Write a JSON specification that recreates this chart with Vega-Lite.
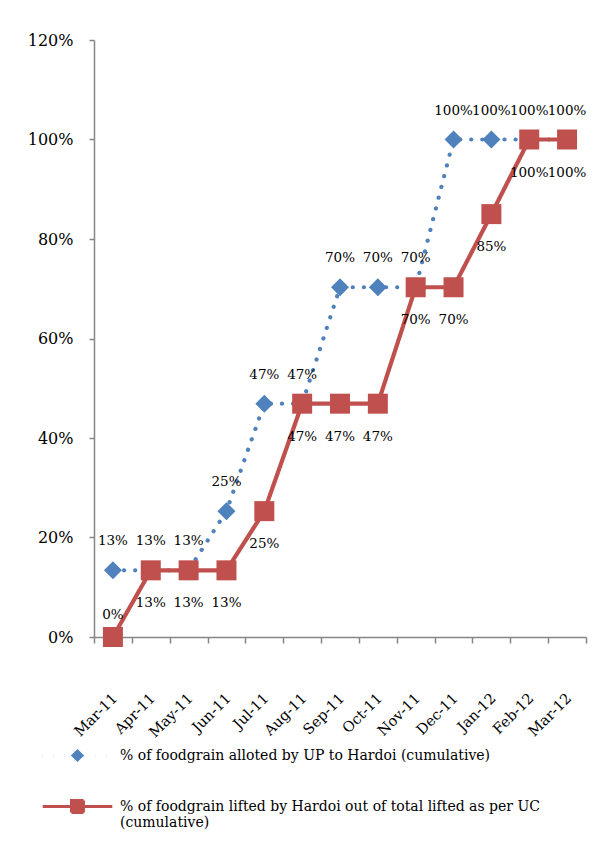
{
  "$schema": "https://vega.github.io/schema/vega-lite/v6.json",
  "width": 492,
  "height": 597,
  "autosize": {"type": "none"},
  "padding": {"left": 94, "top": 40, "right": 9, "bottom": 211},
  "background": "white",
  "config": {
    "view": {"stroke": null},
    "font": "DejaVu Serif",
    "axis": {"domainColor": "#868686", "tickColor": "#868686", "domainWidth": 1.5, "tickWidth": 1.5, "labelColor": "black", "labelFont": "DejaVu Serif", "grid": false, "title": null}
  },
  "data": {
    "values": [
      {"month": "Mar-11", "series": "% of foodgrain alloted by UP to Hardoi (cumulative)", "value": 0.134},
      {"month": "Apr-11", "series": "% of foodgrain alloted by UP to Hardoi (cumulative)", "value": 0.134},
      {"month": "May-11", "series": "% of foodgrain alloted by UP to Hardoi (cumulative)", "value": 0.134},
      {"month": "Jun-11", "series": "% of foodgrain alloted by UP to Hardoi (cumulative)", "value": 0.253},
      {"month": "Jul-11", "series": "% of foodgrain alloted by UP to Hardoi (cumulative)", "value": 0.469},
      {"month": "Aug-11", "series": "% of foodgrain alloted by UP to Hardoi (cumulative)", "value": 0.469},
      {"month": "Sep-11", "series": "% of foodgrain alloted by UP to Hardoi (cumulative)", "value": 0.703},
      {"month": "Oct-11", "series": "% of foodgrain alloted by UP to Hardoi (cumulative)", "value": 0.703},
      {"month": "Nov-11", "series": "% of foodgrain alloted by UP to Hardoi (cumulative)", "value": 0.703},
      {"month": "Dec-11", "series": "% of foodgrain alloted by UP to Hardoi (cumulative)", "value": 1.0},
      {"month": "Jan-12", "series": "% of foodgrain alloted by UP to Hardoi (cumulative)", "value": 1.0},
      {"month": "Feb-12", "series": "% of foodgrain alloted by UP to Hardoi (cumulative)", "value": 1.0},
      {"month": "Mar-12", "series": "% of foodgrain alloted by UP to Hardoi (cumulative)", "value": 1.0},
      {"month": "Mar-11", "series": "% of foodgrain lifted by Hardoi out of total lifted as per UC (cumulative)", "value": 0.0},
      {"month": "Apr-11", "series": "% of foodgrain lifted by Hardoi out of total lifted as per UC (cumulative)", "value": 0.134},
      {"month": "May-11", "series": "% of foodgrain lifted by Hardoi out of total lifted as per UC (cumulative)", "value": 0.134},
      {"month": "Jun-11", "series": "% of foodgrain lifted by Hardoi out of total lifted as per UC (cumulative)", "value": 0.134},
      {"month": "Jul-11", "series": "% of foodgrain lifted by Hardoi out of total lifted as per UC (cumulative)", "value": 0.253},
      {"month": "Aug-11", "series": "% of foodgrain lifted by Hardoi out of total lifted as per UC (cumulative)", "value": 0.469},
      {"month": "Sep-11", "series": "% of foodgrain lifted by Hardoi out of total lifted as per UC (cumulative)", "value": 0.469},
      {"month": "Oct-11", "series": "% of foodgrain lifted by Hardoi out of total lifted as per UC (cumulative)", "value": 0.469},
      {"month": "Nov-11", "series": "% of foodgrain lifted by Hardoi out of total lifted as per UC (cumulative)", "value": 0.703},
      {"month": "Dec-11", "series": "% of foodgrain lifted by Hardoi out of total lifted as per UC (cumulative)", "value": 0.703},
      {"month": "Jan-12", "series": "% of foodgrain lifted by Hardoi out of total lifted as per UC (cumulative)", "value": 0.85},
      {"month": "Feb-12", "series": "% of foodgrain lifted by Hardoi out of total lifted as per UC (cumulative)", "value": 1.0},
      {"month": "Mar-12", "series": "% of foodgrain lifted by Hardoi out of total lifted as per UC (cumulative)", "value": 1.0}
    ]
  },
  "encoding": {
    "x": {
      "field": "month", "type": "ordinal",
      "sort": ["Mar-11","Apr-11","May-11","Jun-11","Jul-11","Aug-11","Sep-11","Oct-11","Nov-11","Dec-11","Jan-12","Feb-12","Mar-12"],
      "scale": {"type": "band", "paddingInner": 0, "paddingOuter": 0},
      "bandPosition": 0.5,
      "axis": {"labelAngle": -45, "labelAlign": "right", "labelBaseline": "top", "labelPadding": 48, "labelOffset": -3, "labelFontSize": 14.5, "tickBand": "extent", "tickSize": 6}
    },
    "y": {
      "field": "value", "type": "quantitative",
      "scale": {"domain": [0, 1.2], "nice": false},
      "axis": {"values": [0, 0.2, 0.4, 0.6, 0.8, 1.0, 1.2], "format": ".0%", "labelFontSize": 16, "labelPadding": 16, "tickSize": 5}
    },
    "color": {
      "field": "series", "type": "nominal",
      "scale": {"domain": ["% of foodgrain alloted by UP to Hardoi (cumulative)", "% of foodgrain lifted by Hardoi out of total lifted as per UC (cumulative)"], "range": ["#4F81BD", "#C0504D"]},
      "legend": {
        "title": null, "orient": "none", "legendX": -30, "legendY": 702, "direction": "vertical", "padding": 0,
        "symbolSize": 576, "symbolStrokeWidth": 3, "labelFont": "DejaVu Serif", "labelFontSize": 14, "labelColor": "black", "labelOffset": 29, "rowPadding": 24, "labelLimit": 600,
        "labelExpr": "indexof(datum.label, 'per UC') > 0 ? ['% of foodgrain lifted by Hardoi out of total lifted as per UC', '(cumulative)'] : datum.label"
      }
    }
  },
  "layer": [
    {
      "transform": [{"filter": "datum.value < -1"}],
      "mark": {"type": "point", "filled": true, "opacity": 1, "strokeCap": "round"},
      "encoding": {
        "shape": {"field": "series", "type": "nominal", "legend": null, "scale": {"domain": ["% of foodgrain alloted by UP to Hardoi (cumulative)", "% of foodgrain lifted by Hardoi out of total lifted as per UC (cumulative)"], "range": ["M-2.9,0L-0.55,0M0.55,0L2.9,0M0,-0.55L0.55,0L0,0.55L-0.55,0Z", "M-2.9,0L2.9,0M-0.5,-0.5L0.5,-0.5L0.5,0.5L-0.5,0.5Z"]}},
        "stroke": {"field": "series", "type": "nominal", "legend": null, "scale": {"domain": ["% of foodgrain alloted by UP to Hardoi (cumulative)", "% of foodgrain lifted by Hardoi out of total lifted as per UC (cumulative)"], "range": ["#4F81BD", "#C0504D"]}},
        "strokeDash": {"field": "series", "type": "nominal", "legend": null, "scale": {"domain": ["% of foodgrain alloted by UP to Hardoi (cumulative)", "% of foodgrain lifted by Hardoi out of total lifted as per UC (cumulative)"], "range": [[0.1, 11], [1, 0]]}}
      }
    },
    {
      "mark": {"type": "line", "strokeWidth": 4.2, "strokeCap": "round", "strokeJoin": "round"},
      "encoding": {
        "strokeDash": {"field": "series", "type": "nominal", "legend": null}
      }
    },
    {
      "transform": [{"filter": "indexof(datum.series, 'alloted') >= 0"}],
      "mark": {"type": "point", "filled": true, "opacity": 1, "shape": "diamond", "size": 324}
    },
    {
      "transform": [{"filter": "indexof(datum.series, 'lifted') >= 0"}],
      "mark": {"type": "point", "filled": true, "opacity": 1, "shape": "square", "size": 400}
    },
    {
      "transform": [{"filter": "indexof(datum.series, 'alloted') >= 0"}],
      "mark": {"type": "text", "dy": -29, "fontSize": 13.5, "font": "DejaVu Serif"},
      "encoding": {"text": {"field": "value", "type": "quantitative", "format": ".0%"}, "color": {"value": "black"}}
    },
    {
      "transform": [{"filter": "indexof(datum.series, 'lifted') >= 0 && datum.value > 0"}],
      "mark": {"type": "text", "dy": 33, "fontSize": 13.5, "font": "DejaVu Serif"},
      "encoding": {"text": {"field": "value", "type": "quantitative", "format": ".0%"}, "color": {"value": "black"}}
    },
    {
      "transform": [{"filter": "indexof(datum.series, 'lifted') >= 0 && datum.value == 0"}],
      "mark": {"type": "text", "dy": -22, "fontSize": 13.5, "font": "DejaVu Serif"},
      "encoding": {"text": {"field": "value", "type": "quantitative", "format": ".0%"}, "color": {"value": "black"}}
    }
  ]
}
